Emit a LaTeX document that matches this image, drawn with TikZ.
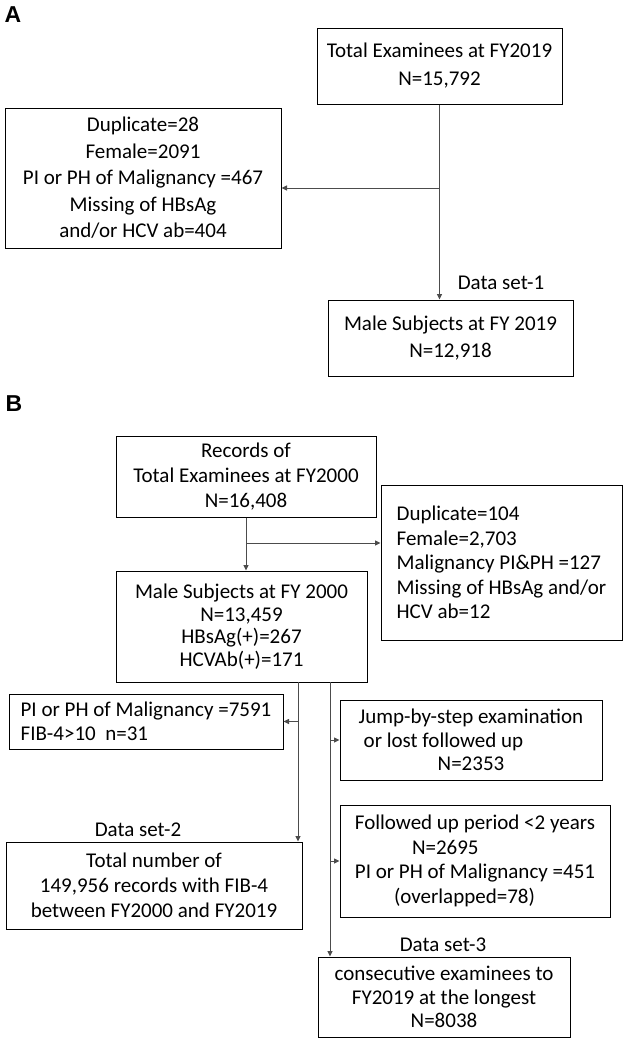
\documentclass[tikz,border=0pt]{standalone}
\usepackage{fontspec}
\setmainfont{Carlito}
\newfontfamily\panelfont{Liberation Sans}
\usetikzlibrary{arrows.meta}

\begin{document}
\begin{tikzpicture}[x=1pt, y=-1pt,
  box/.style={draw, line width=1pt, inner sep=0pt, align=center, font={\fontsize{21}{25}\selectfont}},
  conn/.style={draw=black!70, line width=0.9pt},
  arr/.style={conn, -{Triangle[length=5.5pt, width=5pt]}},
  tag/.style={font={\fontsize{21}{25}\selectfont}},
  panel/.style={font={\panelfont\bfseries\fontsize{23}{25}\selectfont}}]
  \useasboundingbox (0,0) rectangle (624,1042);

  % panel A
  \node[panel] (labA) at (13,15) {A};
  \node[box, minimum width=245pt, minimum height=76pt, font={\fontsize{21}{28}\selectfont}] (totA) at (439.5,66) {Total Examinees at FY2019\\N=15,792};
  \node[box, minimum width=276pt, minimum height=140pt, font={\fontsize{21}{26.5}\selectfont}] (exclA) at (143,178) {Duplicate=28\\Female=2091\\PI or PH of Malignancy =467\\Missing of HBsAg\\and/or HCV ab=404};
  \node[box, minimum width=245pt, minimum height=76pt, font={\fontsize{21}{27}\selectfont}] (maleA) at (450.5,338) {Male Subjects at FY 2019\\N=12,918};
  \node[tag] (ds1) at (501,283) {Data set-1};
  \coordinate (splitA) at (439.5,188);
  \draw[arr] (totA.south) -- (totA.south |- maleA.north);
  \draw[arr] (splitA) -- (splitA -| exclA.east);

  % panel B
  \node[panel] (labB) at (14,404) {B};
  \node[box, minimum width=260pt, minimum height=81pt] (recB) at (246,476.5) {Records of\\Total Examinees at FY2000\\N=16,408};
  \node[box, minimum width=241pt, minimum height=155pt, align=left, font={\fontsize{21}{24.5}\selectfont}] (exclB) at (501.5,562.5) {Duplicate=104\\Female=2,703\\Malignancy PI\&PH =127\\Missing of HBsAg and/or\\HCV ab=12};
  \node[box, minimum width=251pt, minimum height=111pt, font={\fontsize{21}{22.5}\selectfont}] (maleB) at (241.5,626.5) {Male Subjects at FY 2000\\N=13,459\\HBsAg(+)=267\\HCVAb(+)=171};
  \node[box, minimum width=274pt, minimum height=55pt, align=left, font={\fontsize{21}{24}\selectfont}] (maligB) at (146,721.5) {PI or PH of Malignancy =7591\\FIB-4>10\ \ n=31};
  \node[box, minimum width=262pt, minimum height=80pt, align=left, font={\fontsize{21}{23.5}\selectfont}] (jumpB) at (471,740) {Jump-by-step examination\\\hspace*{5pt}or lost followed up\\\hspace*{79pt}N=2353};
  \node[box, minimum width=296pt, minimum height=87pt] (set2B) at (154,885.5) {Total number of\\149,956 records with FIB-4\\between FY2000 and FY2019};
  \node[box, minimum width=270pt, minimum height=112pt, font={\fontsize{21}{24.7}\selectfont}] (follB) at (475,861) {Followed up period <2 years\\\makebox[126pt][l]{N=2695}\\PI or PH of Malignancy =451\\\makebox[162pt][l]{(overlapped=78)}};
  \node[box, minimum width=252pt, minimum height=80pt, font={\fontsize{21}{23.5}\selectfont}] (set3B) at (444,997) {consecutive examinees to\\FY2019 at the longest\\N=8038};
  \node[tag] (ds2) at (138,830) {Data set-2};
  \node[tag] (ds3) at (443,945) {Data set-3};
  \coordinate (splitB) at (246,543);
  \coordinate (stemL) at (298,682);
  \coordinate (stemR) at (330,682);
  \draw[arr] (recB.south) -- (recB.south |- maleB.north);
  \draw[arr] (splitB) -- (splitB -| exclB.west);
  \draw[arr] (stemL) -- (stemL |- set2B.north);
  \draw[arr] (stemR) -- (stemR |- set3B.north);
  \draw[arr] (stemL |- maligB.east) -- (maligB.east);
  \draw[arr] (stemR |- jumpB.west) -- (jumpB.west);
  \draw[arr] (stemR |- follB.west) -- (follB.west);
\end{tikzpicture}
\end{document}
